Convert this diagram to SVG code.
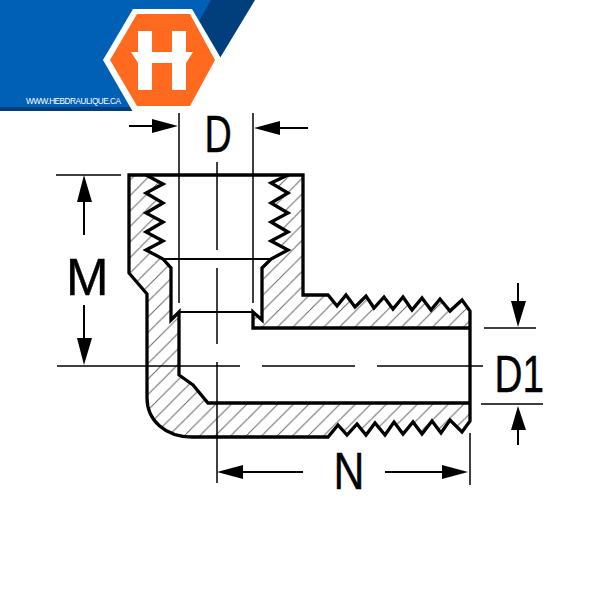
<svg xmlns="http://www.w3.org/2000/svg" width="600" height="600" viewBox="0 0 600 600">
<style>
.o{fill:none;stroke:#000;stroke-width:3.3;stroke-linejoin:miter}
.t{fill:none;stroke:#000;stroke-width:1.5}
.h{stroke:#666;stroke-width:1}
.a{fill:#000;stroke:none}
.l{font-family:"Liberation Sans",Arial,sans-serif;font-size:51px;fill:#000;stroke:#000;stroke-width:.4}
</style>
<defs>
<clipPath id="mat"><path d="M129 175H146L163 184L146 193L163 203L146 213L163 222L146 232L163 241L146 250L163 259L171 268V320L179 312V375L193 385L208 403H470V421L462 432L450 420L441 433L432 421L422 434L413 422L403 434L394 422L385 435L375 423L366 435L357 424L347 435L338 425L328 437H192C165 437 147 420 147 398V294L129 273Z"/><path d="M303 175H288L271 183L288 193L271 203L288 213L271 222L288 232L271 241L288 250L271 259L262 268V320L253 312V328H470V311L462 300L450 311L440 299L431 310L422 298L412 310L403 297L393 309L384 297L374 308L366 296L355 307L346 295L337 306L328 295H303Z"/></clipPath>
<pattern id="hatch" width="15.5" height="15.5" patternUnits="userSpaceOnUse"><path class="h" d="M-2 17.5L17.5 -2M-17.5 17.5L17.5 -17.5"/></pattern>
</defs>
<g id="logo">
<path d="M0 0H255L220 58L190 30L210 0Z" fill="#003f7c"/>
<path d="M0 0H211L150 107H0Z" fill="#0060b6"/>
<path d="M0 107H135V111H0Z" fill="#003f7c"/>
<path d="M133 9H192L222 60L192 112H133L103 60Z" fill="#fff"/>
<path d="M137 14H190L215 60L190 106H137L110 60Z" fill="#ff6a1f"/>
<path d="M138 31H152V52H172V31H186V52H193L186 63V90H172V63H152V90H138V63L131 52H138Z" fill="#fff"/>
<text x="26" y="104" font-family="Liberation Sans,Arial,sans-serif" font-size="8.2" fill="#fff" textLength="95" lengthAdjust="spacing">WWW.HEBDRAULIQUE.CA</text>
</g>
<g id="body">
<rect x="125" y="170" width="350" height="272" fill="url(#hatch)" clip-path="url(#mat)"/>
<path class="o" d="M303 175H129V273L147 294V398C147 420 165 437 192 437H328L338 425L347 435L357 424L366 435L375 423L385 435L394 422L403 434L413 422L422 434L432 421L441 433L450 420L462 432L470 421V311L462 300L450 311L440 299L431 310L422 298L412 310L403 297L393 309L384 297L374 308L366 296L355 307L346 295L337 306L328 295H303Z"/>
<path class="o" d="M146 175L163 184L146 193L163 203L146 213L163 222L146 232L163 241L146 250L163 259L171 268V320L179 312V375L193 385L208 403H470"/>
<path class="o" d="M288 175L271 183L288 193L271 203L288 213L271 222L288 232L271 241L288 250L271 259L262 268V320L253 312V328H470"/>
<path class="t" style="stroke-width:2" d="M163 259H271M179 312H253"/>
</g>
<g id="connectors">
<path class="t" d="M179 113V303M253 113V303M217 162V250M217 268V344M217 362V483M57 366H240M262 366H355M377 366H483M56 175H121M484 328H536M481 404H543M470 433V485"/>
<path class="t" style="stroke-width:2" d="M129 126H152M280 128H308M84 202V235M84 305V338M518 283V301M518 430V445M243 472H303M385 472H442"/>
<path class="a" d="M152 119L178 126L152 133ZM280 121L254 128L280 135ZM84 175L92 202H77ZM84 365L92 338H77ZM518 327L526 301H511ZM518 406L526 430H511ZM217 472L243 465V479ZM468 472L442 465V479Z"/>
</g>
<g id="labels">
<text class="l" transform="translate(204.5 152) scale(.74 1)">D</text>
<text class="l" x="66" y="295">M</text>
<text class="l" transform="translate(333.5 489) scale(.84 1)">N</text>
<text class="l" transform="translate(494.5 392) scale(.76 1)">D1</text>
</g>
</svg>
